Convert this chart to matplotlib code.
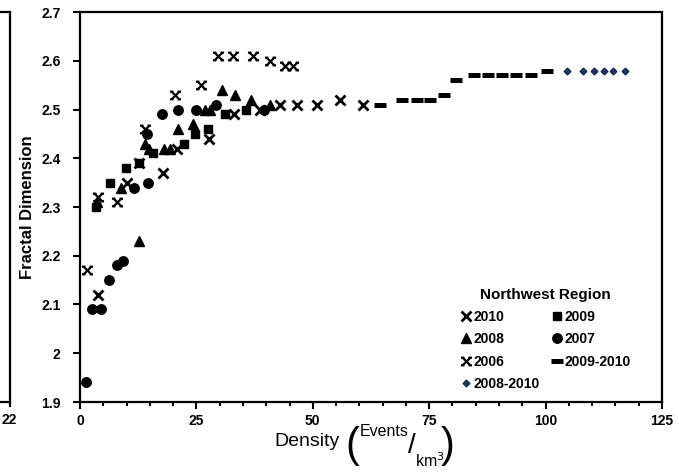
import numpy as np
import matplotlib
matplotlib.use("Agg")
import matplotlib.pyplot as plt
from matplotlib.path import Path
from matplotlib.lines import Line2D

# (density, fractal dimension) per series
x_2010 = [3.9, 10.1, 12.7, 17.8, 20.8, 27.7, 33.1, 38.7, 43.0, 46.6, 50.9, 55.8, 60.8]
y_2010 = [2.12, 2.35, 2.39, 2.37, 2.42, 2.44, 2.49, 2.50, 2.51, 2.51, 2.51, 2.52, 2.51]

x_2009 = [3.4, 6.4, 9.9, 12.7, 15.7, 22.3, 24.7, 27.5, 31.1, 35.7]
y_2009 = [2.30, 2.35, 2.38, 2.39, 2.41, 2.43, 2.45, 2.46, 2.49, 2.50]

x_2008 = [3.7, 8.8, 12.7, 14.0, 14.8, 18.0, 19.3, 21.0, 24.3, 26.8, 27.9, 30.5, 33.3, 36.7, 40.8]
y_2008 = [2.31, 2.34, 2.23, 2.43, 2.42, 2.42, 2.42, 2.46, 2.47, 2.50, 2.50, 2.54, 2.53, 2.52, 2.51]

x_2007 = [1.3, 2.6, 4.5, 6.2, 7.9, 9.2, 11.6, 14.6, 14.4, 17.6, 21.0, 24.9, 29.2, 39.5]
y_2007 = [1.94, 2.09, 2.09, 2.15, 2.18, 2.19, 2.34, 2.35, 2.45, 2.49, 2.50, 2.50, 2.51, 2.50]

x_2006 = [1.5, 3.9, 7.9, 14.0, 20.4, 26.0, 29.6, 32.9, 37.2, 40.8, 44.0, 45.7]
y_2006 = [2.17, 2.32, 2.31, 2.46, 2.53, 2.55, 2.61, 2.61, 2.61, 2.60, 2.59, 2.59]

x_0910 = [64.5, 69.2, 72.4, 75.2, 78.1, 80.8, 84.6, 87.6, 90.7, 93.7, 96.8, 100.3]
y_0910 = [2.51, 2.52, 2.52, 2.52, 2.53, 2.56, 2.57, 2.57, 2.57, 2.57, 2.57, 2.58]

x_0810 = [104.5, 108.1, 110.5, 112.6, 114.5, 117.1]
y_0810 = [2.58, 2.58, 2.58, 2.58, 2.58, 2.58]

x_ticks = [0, 25, 50, 75, 100, 125]
y_ticks = [1.9, 2.0, 2.1, 2.2, 2.3, 2.4, 2.5, 2.6, 2.7]
y_tick_labels = ["1.9", "2", "2.1", "2.2", "2.3", "2.4", "2.5", "2.6", "2.7"]

W, H = 679, 472
plt.rcParams["font.family"] = ["Liberation Sans", "DejaVu Sans"]

# X with little serifs, the 2006 marker
s = 0.45
serif_x = Path(
    [(-1, -1), (1, 1), (-1, 1), (1, -1),
     (-1 - s, 1), (-1 + s, 1), (1 - s, 1), (1 + s, 1),
     (-1 - s, -1), (-1 + s, -1), (1 - s, -1), (1 + s, -1)],
    [Path.MOVETO, Path.LINETO] * 6,
)

fig = plt.figure(figsize=(W / 100, H / 100), dpi=100)
ax = fig.add_axes([80 / W, 1 - 402 / H, 582 / W, 390 / H])

h10, = ax.plot(x_2010, y_2010, ls="none", marker="x", ms=6.5, mew=2.0, color="black", label="2010")
h09, = ax.plot(x_2009, y_2009, ls="none", marker="s", ms=5.8, color="black", label="2009")
h08, = ax.plot(x_2008, y_2008, ls="none", marker="^", ms=7, color="black", label="2008")
h07, = ax.plot(x_2007, y_2007, ls="none", marker="o", ms=6.8, color="black", label="2007")
h06, = ax.plot(x_2006, y_2006, ls="none", marker=serif_x, ms=8, mew=1.6, mfc="none",
               color="black", label="2006")
h0910, = ax.plot(x_0910, y_0910, ls="none", marker="_", ms=9, mew=3.6, color="black",
                 label="2009-2010")
h0810, = ax.plot(x_0810, y_0810, ls="none", marker="D", ms=3.4, color="#1f3a68", mec="#15294d",
                 label="2008-2010")

ax.set_xlim(0, 125)
ax.set_ylim(1.9, 2.7)
ax.set_xticks(x_ticks)
ax.set_xticks(np.arange(0, 126, 5), minor=True)
ax.set_yticks(y_ticks)
ax.set_yticklabels(y_tick_labels)
for lab in ax.get_xticklabels() + ax.get_yticklabels():
    lab.set_fontweight("bold")
    lab.set_fontsize(10)
ax.tick_params(axis="both", which="major", direction="out", length=5, width=1.5)
ax.tick_params(axis="y", which="major", pad=9)
ax.tick_params(axis="x", which="minor", direction="out", length=3, width=1.5)
for sp in ax.spines.values():
    sp.set_linewidth(1.6)

ax.set_ylabel("Fractal Dimension", fontsize=12, fontweight="bold", labelpad=4)

# column-wise order so the rows read 2010/2009, 2008/2007, 2006/2009-2010, 2008-2010
handles = [h10, h08, h06, h0810, h09, h07, h0910]
leg = ax.legend(
    handles, [h.get_label() for h in handles],
    ncol=2, loc="upper left", bbox_to_anchor=(448 / W, 1 - 275 / H),
    bbox_transform=fig.transFigure, frameon=False,
    title="Northwest Region", title_fontproperties={"weight": "bold", "size": 11},
    prop={"weight": "bold", "size": 10}, handlelength=0.8, handletextpad=0.15,
    columnspacing=0.8, labelspacing=0.6,
)

# x label built from pieces: Density (Events / km^3)
narrow = ["Liberation Sans Narrow", "Liberation Sans", "DejaVu Sans"]
fig.text(307 / W, 1 - 441 / H, "Density", family=narrow, fontsize=14, ha="center", va="center")
fig.text(352 / W, 1 - 446 / H, "(", family=narrow, fontsize=30, ha="center", va="center")
fig.text(384 / W, 1 - 432 / H, "Events", family=narrow, fontsize=11.5, ha="center", va="center")
fig.text(412 / W, 1 - 446 / H, "/", family=narrow, fontsize=20, ha="center", va="center")
fig.text(430 / W, 1 - 461 / H, "km$^3$", family=narrow, fontsize=11.5, ha="center", va="center")
fig.text(448 / W, 1 - 446 / H, ")", family=narrow, fontsize=30, ha="center", va="center")

# edge of the neighbouring panel on the left
fig.add_artist(Line2D([10 / W, 10 / W], [1 - 12 / H, 1 - 406 / H], color="black", lw=1.6))
fig.add_artist(Line2D([0, 10 / W], [1 - 12 / H, 1 - 12 / H], color="black", lw=1.6))
fig.add_artist(Line2D([0, 10 / W], [1 - 402 / H, 1 - 402 / H], color="black", lw=1.6))
fig.text(1 / W, 1 - 420 / H, "22", fontsize=10, fontweight="bold", ha="left", va="center")

fig.savefig("out.png", dpi=100)
